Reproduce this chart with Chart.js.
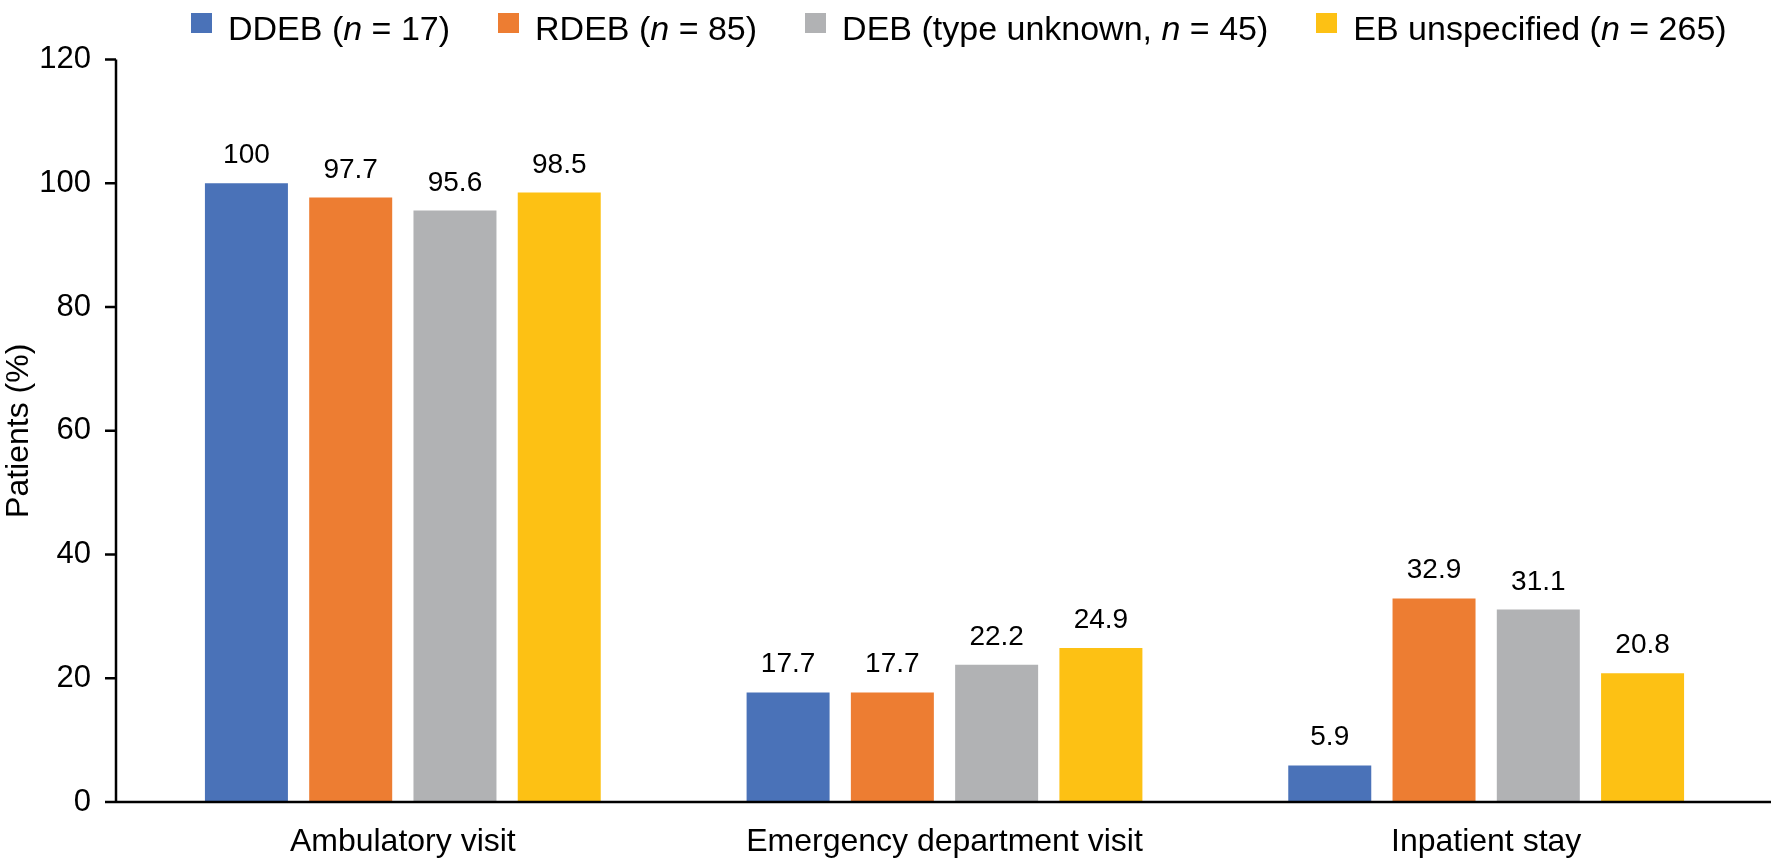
<!DOCTYPE html>
<html>
<head>
<meta charset="utf-8">
<script src="https://cdn.jsdelivr.net/npm/chart.js@4.4.1/dist/chart.umd.min.js"></script>
<style>
  html, body { margin: 0; padding: 0; background: #fff; }
  #wrap { position: relative; width: 1772px; height: 868px; font-family: "Liberation Sans", Arial, sans-serif; }
  #legend { position: absolute; top: 8px; left: 191px; display: flex; align-items: center; height: 40px; font-size: 34px; line-height: 40px; color: #000; white-space: nowrap; }
  #legend .item { display: flex; align-items: center; margin-right: 48px; }
  #legend .box { width: 21px; height: 20px; margin-right: 16px; position: relative; top: -5px; }
  canvas { position: absolute; top: 0; left: 0; }
</style>
</head>
<body>
<div id="wrap">
  <canvas id="chart" width="1772" height="868"></canvas>
  <div id="legend"></div>
</div>
<script>
// data
const categories = ['Ambulatory visit', 'Emergency department visit', 'Inpatient stay'];
const seriesNames = ['DDEB (n = 17)', 'RDEB (n = 85)', 'DEB (type unknown, n = 45)', 'EB unspecified (n = 265)'];
const ddeb = [100, 17.7, 5.9];
const rdeb = [97.7, 17.7, 32.9];
const debUnknown = [95.6, 22.2, 31.1];
const ebUnspecified = [98.5, 24.9, 20.8];
const yTicks = [0, 20, 40, 60, 80, 100, 120];

const colors = ['#4A72B8', '#ED7D32', '#B1B2B4', '#FDC114'];
const values = [ddeb, rdeb, debUnknown, ebUnspecified];
const fontFamily = '"Liberation Sans", Arial, sans-serif';

// value labels above each bar
const barLabels = {
    id: 'barLabels',
    afterDatasetsDraw(chart) {
        const ctx = chart.ctx;
        ctx.save();
        ctx.font = '28px ' + fontFamily;
        ctx.fillStyle = '#000';
        ctx.textAlign = 'center';
        ctx.textBaseline = 'alphabetic';
        chart.data.datasets.forEach((ds, i) => {
            chart.getDatasetMeta(i).data.forEach((bar, j) => {
                ctx.fillText(String(ds.data[j]), bar.x, bar.y - 20);
            });
        });
        ctx.restore();
    }
};

// axis lines sit a bit outside the plot area, like the original
const axisLines = {
    id: 'axisLines',
    afterDraw(chart) {
        const ctx = chart.ctx;
        const area = chart.chartArea;
        const y = chart.scales.y;
        const axisX = area.left - 16;
        ctx.save();
        ctx.strokeStyle = '#000';
        ctx.lineWidth = 2.5;
        ctx.beginPath();
        ctx.moveTo(axisX, area.top);
        ctx.lineTo(axisX, area.bottom);
        y.ticks.forEach(t => {
            const py = y.getPixelForValue(t.value);
            ctx.moveTo(axisX - 11, py);
            ctx.lineTo(axisX, py);
        });
        ctx.moveTo(axisX - 11, area.bottom);
        ctx.lineTo(area.right + 14, area.bottom);
        ctx.stroke();
        ctx.restore();
    }
};

const chart = new Chart(document.getElementById('chart').getContext('2d'), {
    type: 'bar',
    data: {
        labels: categories,
        datasets: seriesNames.map((name, i) => ({
            label: name,
            data: values[i],
            backgroundColor: colors[i],
            borderWidth: 0,
            categoryPercentage: 0.77,
            barPercentage: 0.796,
        })),
    },
    options: {
        responsive: false,
        animation: false,
        layout: { padding: { top: 57, right: 15, left: 0, bottom: 0 } },
        plugins: {
            legend: { display: false },
            tooltip: { enabled: false },
        },
        scales: {
            x: {
                grid: { display: false, drawTicks: false },
                border: { display: false },
                ticks: { color: '#000', font: { family: fontFamily, size: 32 }, padding: 21, maxRotation: 0 },
                afterFit(scale) { scale.height = 66; },
            },
            y: {
                min: 0,
                max: 120,
                afterBuildTicks(scale) { scale.ticks = yTicks.map(v => ({ value: v })); },
                grid: { display: false, drawTicks: false },
                border: { display: false },
                ticks: { color: '#000', font: { family: fontFamily, size: 31 }, padding: 41 },
                title: { display: true, text: 'Patients (%)', color: '#000', font: { family: fontFamily, size: 32 }, padding: 0 },
                afterFit(scale) { scale.width = 132; },
            },
        },
    },
    plugins: [barLabels, axisLines],
});

// html legend so the "n" can be italic
const legendEl = document.getElementById('legend');
chart.data.datasets.forEach(ds => {
    const item = document.createElement('div');
    item.className = 'item';
    const box = document.createElement('span');
    box.className = 'box';
    box.style.background = ds.backgroundColor;
    item.appendChild(box);
    const text = document.createElement('span');
    const parts = ds.label.split(/\bn(?= =)/);
    parts.forEach((p, k) => {
        if (k > 0) {
            const it = document.createElement('i');
            it.textContent = 'n';
            text.appendChild(it);
        }
        text.appendChild(document.createTextNode(p));
    });
    item.appendChild(text);
    legendEl.appendChild(item);
});
</script>
</body>
</html>
